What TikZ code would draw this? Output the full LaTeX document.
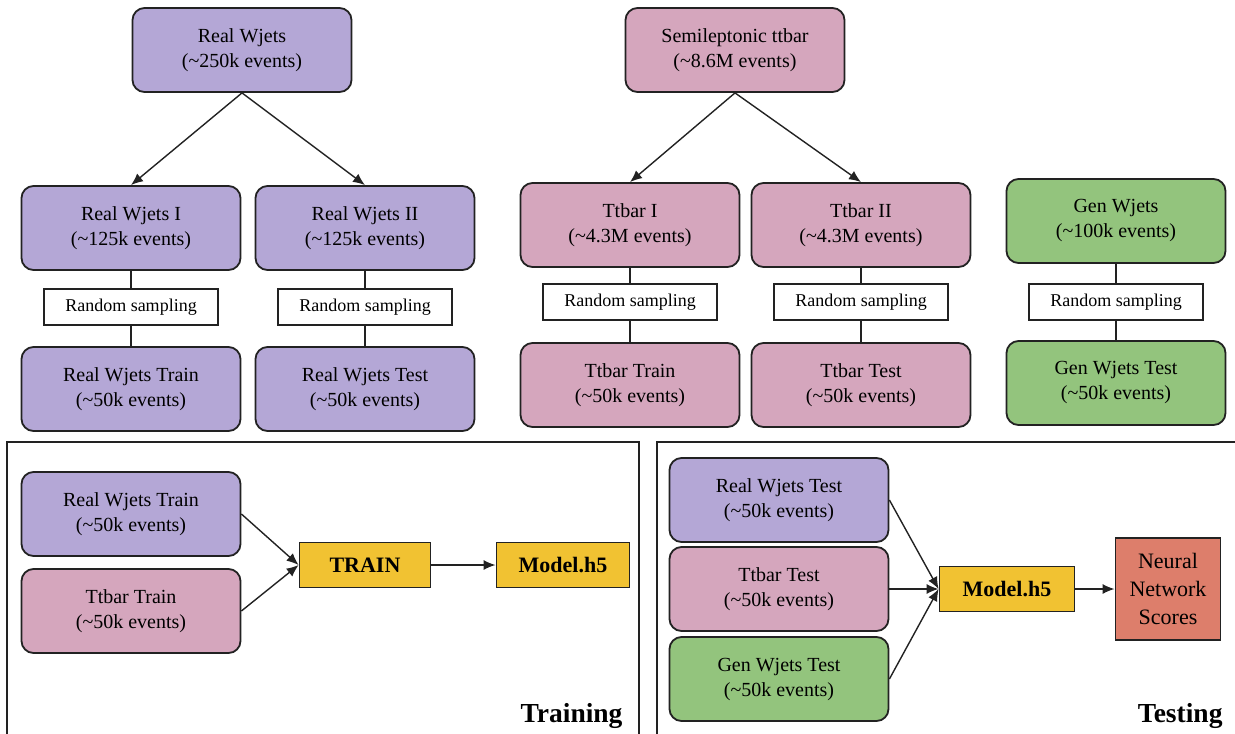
\documentclass[tikz,border=0pt]{standalone}
\usepackage{fontspec}
\setmainfont{Liberation Serif}
\usetikzlibrary{arrows.meta}
\definecolor{wjets}{HTML}{B4A7D6}
\definecolor{ttbar}{HTML}{D5A6BD}
\definecolor{genw}{HTML}{93C47D}
\definecolor{model}{HTML}{F1C232}
\definecolor{score}{HTML}{DD7E6B}
\definecolor{ink}{HTML}{222222}
\tikzset{
  sample/.style={draw=ink, line width=1.8pt, rounded corners=12pt, minimum width=219pt, minimum height=84pt, align=center, font=\fontsize{20}{25}\selectfont},
  sampling/.style={draw=ink, line width=1.4pt, fill=white, minimum width=174pt, minimum height=36pt, font=\fontsize{18}{20}\selectfont},
  stage/.style={draw=ink, line width=1.8pt, fill=model, minimum height=45pt, font=\bfseries\fontsize{22}{24}\selectfont},
  link/.style={draw=ink, line width=1.4pt, -{Latex[length=12pt,width=10pt]}},
  tie/.style={draw=ink, line width=1.4pt},
  frame/.style={draw=ink, line width=1.6pt}
}
\begin{document}
\begin{tikzpicture}[x=1pt,y=-1pt]
\useasboundingbox (0,0) rectangle (1235,734);
\node[sample, fill=wjets] (rw) at (242,50) {Real Wjets\\(\textasciitilde250k events)};
\node[sample, fill=ttbar] (tt) at (735,50) {Semileptonic ttbar\\(\textasciitilde8.6M events)};
\node[sample, fill=wjets] (rwA) at (131,228) {Real Wjets I\\(\textasciitilde125k events)};
\node[sample, fill=wjets] (rwB) at (365,228) {Real Wjets II\\(\textasciitilde125k events)};
\node[sample, fill=ttbar] (ttA) at (630,225) {Ttbar I\\(\textasciitilde4.3M events)};
\node[sample, fill=ttbar] (ttB) at (861,225) {Ttbar II\\(\textasciitilde4.3M events)};
\node[sample, fill=genw] (gw) at (1116,221) {Gen Wjets\\(\textasciitilde100k events)};
\node[sampling] (rsA) at (131,307) {Random sampling};
\node[sampling] (rsB) at (365,307) {Random sampling};
\node[sampling] (rsC) at (630,302) {Random sampling};
\node[sampling] (rsD) at (861,302) {Random sampling};
\node[sampling] (rsE) at (1116,302) {Random sampling};
\node[sample, fill=wjets] (rwTrain) at (131,389) {Real Wjets Train\\(\textasciitilde50k events)};
\node[sample, fill=wjets] (rwTest) at (365,389) {Real Wjets Test\\(\textasciitilde50k events)};
\node[sample, fill=ttbar] (ttTrain) at (630,385) {Ttbar Train\\(\textasciitilde50k events)};
\node[sample, fill=ttbar] (ttTest) at (861,385) {Ttbar Test\\(\textasciitilde50k events)};
\node[sample, fill=genw] (gwTest) at (1116,383) {Gen Wjets Test\\(\textasciitilde50k events)};
\draw[link] (rw.south) -- (rwA.north);
\draw[link] (rw.south) -- (rwB.north);
\draw[link] (tt.south) -- (ttA.north);
\draw[link] (tt.south) -- (ttB.north);
\draw[tie] (rwA.south) -- (rsA.north);
\draw[tie] (rsA.south) -- (rwTrain.north);
\draw[tie] (rwB.south) -- (rsB.north);
\draw[tie] (rsB.south) -- (rwTest.north);
\draw[tie] (ttA.south) -- (rsC.north);
\draw[tie] (rsC.south) -- (ttTrain.north);
\draw[tie] (ttB.south) -- (rsD.north);
\draw[tie] (rsD.south) -- (ttTest.north);
\draw[tie] (gw.south) -- (rsE.north);
\draw[tie] (rsE.south) -- (gwTest.north);
\draw[frame] (7,740) -- (7,442) -- (639,442) -- (639,740);
\draw[frame] (657,740) -- (657,442) -- (1240,442);
\node[anchor=base east, font=\bfseries\fontsize{27.5}{30}\selectfont] (trainLabel) at (626,722) {Training};
\node[anchor=base east, font=\bfseries\fontsize{27.5}{30}\selectfont] (testLabel) at (1226,722) {Testing};
\node[sample, fill=wjets] (inRw) at (131,514) {Real Wjets Train\\(\textasciitilde50k events)};
\node[sample, fill=ttbar] (inTt) at (131,611) {Ttbar Train\\(\textasciitilde50k events)};
\node[stage, minimum width=131pt] (train) at (365,565) {TRAIN};
\node[stage, minimum width=133pt] (modelA) at (563,565) {Model.h5};
\draw[link] (inRw.east) -- (train.west);
\draw[link] (inTt.east) -- (train.west);
\draw[link] (train) -- (modelA);
\node[sample, fill=wjets] (evRw) at (779,500) {Real Wjets Test\\(\textasciitilde50k events)};
\node[sample, fill=ttbar] (evTt) at (779,589) {Ttbar Test\\(\textasciitilde50k events)};
\node[sample, fill=genw] (evGw) at (779,679) {Gen Wjets Test\\(\textasciitilde50k events)};
\node[stage, minimum width=135pt] (modelB) at (1007,589) {Model.h5};
\node[draw=ink, line width=1.8pt, fill=score, minimum width=105pt, minimum height=102pt, inner sep=1pt, align=center, font=\fontsize{22}{28}\selectfont] (scores) at (1168,589) {Neural\\Network\\Scores};
\draw[link] (evRw.east) -- (modelB.west);
\draw[link] (evTt.east) -- (modelB.west);
\draw[link] (evGw.east) -- (modelB.west);
\draw[link] (modelB) -- (scores);
\end{tikzpicture}
\end{document}
